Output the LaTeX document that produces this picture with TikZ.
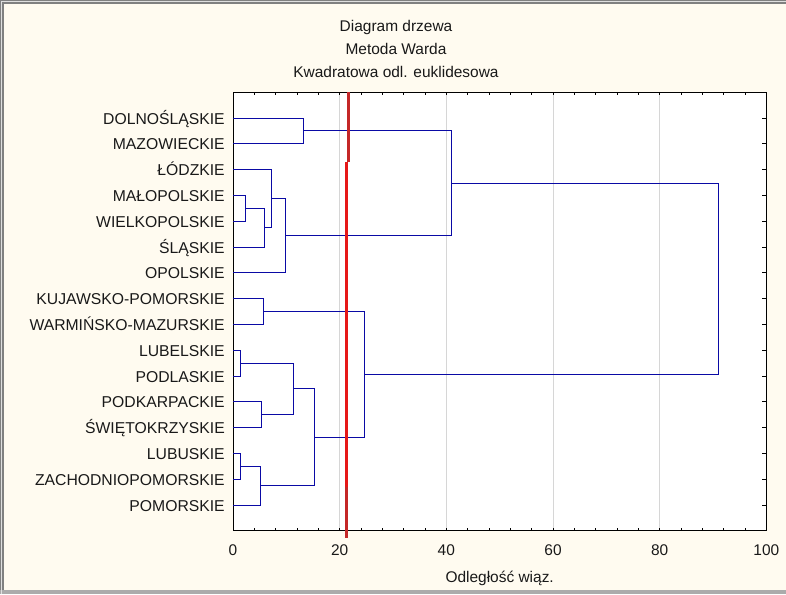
\documentclass[tikz,border=0pt]{standalone}
\usepackage{fontspec}
\setmainfont{Liberation Sans}
\usepackage{xcolor}
\usepackage{tikz}
\usetikzlibrary{calc}

\definecolor{panel}{RGB}{255,251,240}
\definecolor{frame}{RGB}{128,128,128}
\definecolor{linkblue}{RGB}{10,10,165}
\definecolor{cutred}{RGB}{230,24,24}
\definecolor{cutdark}{RGB}{196,40,40}
\definecolor{gridgray}{RGB}{214,214,214}

\begin{document}
\begin{tikzpicture}[
  x=0.75pt, y=-0.75pt,
  every node/.style={font=\fontsize{11.6pt}{13pt}\selectfont, text=black!90, inner sep=0pt},
  leaf/.style={anchor=base east, font=\fontsize{11.8pt}{13pt}\selectfont},
  ticklab/.style={anchor=north},
  link/.style={draw=linkblue, line width=0.75pt},
  cut/.style={line width=2.2pt},
  tickmark/.style={line width=0.75pt}
]
\useasboundingbox (0,0) rectangle (786,594);
% window panel
\fill[panel] (0,0) rectangle (786,594);
\fill[frame] (0,0) rectangle (786,4);
\fill[frame] (0,0) rectangle (4,594);
\fill[black!33] (0,590) rectangle (786,594);
\draw[white!75!frame, line width=0.75pt] (1.5,594) -- (1.5,1.5) -- (786,1.5);

% title
\node[anchor=base] (title1) at (396,31) {Diagram drzewa};
\node[anchor=base] (title2) at (396,54) {Metoda Warda};
\node[anchor=base] (title3) at (396,77) {Kwadratowa odl. euklidesowa};

\begin{scope}[shift={(233,92.2)}, x=4pt, y=-19.35pt]
  % plot area
  \fill[white] (0,0) rectangle (100,17);
  \foreach \g in {20,40,60,80}
    \draw[gridgray, line width=0.75pt] (\g,0) -- (\g,17);
  \foreach \t in {0,4,...,100} {
    \draw[tickmark] (\t,0) -- ++(0,-2.25pt);
    \draw[tickmark] (\t,17) -- ++(0,2.25pt);
  }
  \foreach \i in {1,...,16}
    \draw[tickmark] (100,\i) -- ++(-3pt,0);
  \draw[line width=0.75pt] (0,0) rectangle (100,17);

  % leaves
  \foreach \name [count=\i] in {DOLNOŚLĄSKIE, MAZOWIECKIE, ŁÓDZKIE, MAŁOPOLSKIE,
      WIELKOPOLSKIE, ŚLĄSKIE, OPOLSKIE, KUJAWSKO-POMORSKIE, WARMIŃSKO-MAZURSKIE,
      LUBELSKIE, PODLASKIE, PODKARPACKIE, ŚWIĘTOKRZYSKIE, LUBUSKIE,
      ZACHODNIOPOMORSKIE, POMORSKIE} {
    \coordinate (L\i) at (0,\i);
    \node[leaf, xshift=-6pt, yshift=-4.5pt] (lab\i) at (L\i) {\name};
  }

  % merge points (distance, row)
  \coordinate (a) at (13.2,1.5);
  \coordinate (b) at (2.3,4.5);
  \coordinate (c) at (5.9,5.25);
  \coordinate (d) at (7.2,4.125);
  \coordinate (e) at (9.8,5.5625);
  \coordinate (f) at (40.9,3.53125);
  \coordinate (g) at (5.7,8.5);
  \coordinate (h) at (1.4,10.5);
  \coordinate (i) at (5.3,12.5);
  \coordinate (j) at (11.3,11.5);
  \coordinate (k) at (1.4,14.5);
  \coordinate (l) at (5.1,15.25);
  \coordinate (m) at (15.3,13.375);
  \coordinate (n) at (24.6,10.9375);
  \coordinate (o) at (91.0,7.234);

  \draw[link] (L1) -| (a) |- (L2);
  \draw[link] (L4) -| (b) |- (L5);
  \draw[link] (b) -| (c) |- (L6);
  \draw[link] (L3) -| (d) |- (c);
  \draw[link] (d) -| (e) |- (L7);
  \draw[link] (a) -| (f) |- (e);
  \draw[link] (L8) -| (g) |- (L9);
  \draw[link] (L10) -| (h) |- (L11);
  \draw[link] (L12) -| (i) |- (L13);
  \draw[link] (h) -| (j) |- (i);
  \draw[link] (L14) -| (k) |- (L15);
  \draw[link] (k) -| (l) |- (L16);
  \draw[link] (j) -| (m) |- (l);
  \draw[link] (g) -| (n) |- (m);
  \draw[link] (f) -| (o) |- (n);

  % cut line
  \draw[cut, cutdark] (21.6,0) -- (21.6,2.71);
  \draw[cut, cutred] (21.35,2.71) -- (21.35,15.3);
  \draw[cut, cutdark] (21.2,15.3) -- (21.2,17.28);

  % axis labels
  \foreach \v in {0,20,...,100}
    \node[ticklab, yshift=-9.9pt] (tl\v) at (\v,17) {\v};
  \node[anchor=base, yshift=-38.4pt] (xtitle) at (50,17) {Odległość wiąz.};
\end{scope}
\end{tikzpicture}
\end{document}
